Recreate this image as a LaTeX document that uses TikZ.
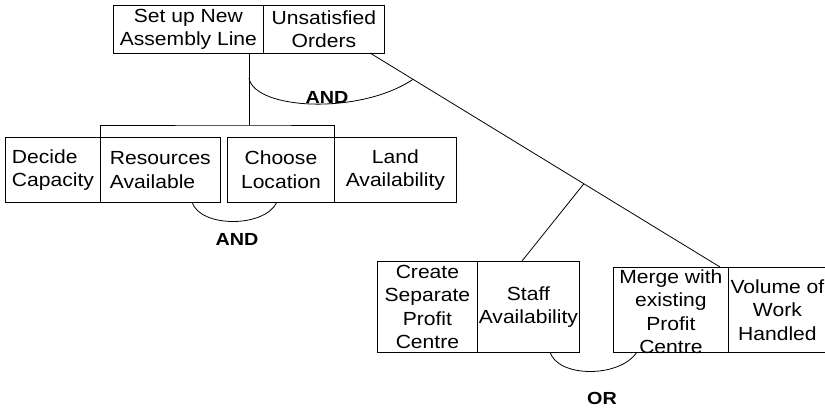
\documentclass[tikz,border=0pt]{standalone}
\usepackage{fontspec}
\setmainfont{Liberation Sans}
\newfontfamily\boxfont[FakeStretch=1.11]{Liberation Sans}
\newfontfamily\gatefont[FakeStretch=1.13]{Liberation Sans}
\usetikzlibrary{calc}
\tikzset{
  cell/.style={draw, line width=0.8pt, inner sep=0pt, anchor=north west,
    align=center, font=\boxfont\fontsize{19}{23.5}\selectfont},
  txt/.style={inner sep=0pt, align=center, font=\boxfont\fontsize{19}{23.5}\selectfont},
  link/.style={line width=0.8pt},
  gate/.style={inner sep=0pt, font=\gatefont\fontsize{17.5}{20}\selectfont\bfseries}
}
\begin{document}
\begin{tikzpicture}[x=1pt, y=-1pt]
\useasboundingbox (0,0) rectangle (825,408);

% goal
\node[cell, minimum width=150pt, minimum height=48pt] (stl) at (113,5) {Set up New\\Assembly Line};
\node[cell, minimum width=121pt, minimum height=48pt] (uo) at (263,5) {Unsatisfied\\Orders};

% first AND branch
\node[cell, align=left, minimum width=95pt, minimum height=65pt] (dc) at (5,137) {Decide\\Capacity};
\node[cell, align=left, minimum width=120pt, minimum height=65pt] (ra) at (100,137) {Resources\\Available};
\node[cell, minimum width=107pt, minimum height=65pt] (cl) at (227,137) {Choose\\Location};
\node[cell, minimum width=122pt, minimum height=65pt] (la) at (334,137) {Land\\Availability};

% OR branch
\node[cell, minimum width=100pt, minimum height=91pt] (cs) at (377,261) {Create\\Separate\\Profit\\Centre};
\node[cell, minimum width=102pt, minimum height=91pt] (sa) at (477,261) {Staff\\Availability};
\node[cell, minimum width=115pt, minimum height=85pt] (mp) at (613,267) {};
\node[txt] (mpt) at ($(mp.center)+(0,2)$) {Merge with\\existing\\Profit\\Centre};
\node[cell, minimum width=98pt, minimum height=85pt] (vw) at (728,267) {Volume of\\Work\\Handled};

% junction points
\coordinate (t1) at (249,53);
\coordinate (j1) at (249,125);
\coordinate (t2) at (370,53);
\coordinate (b2) at (720,267);
\coordinate (j2) at ($(t2)!0.611!(b2)$);
\coordinate (e2) at (522,261);

% connectors
\draw[link] (t1) -- (j1);
\draw[link] (ra.north west) |- (j1) -| (la.north west);
\draw[link] (t2) -- (b2);
\draw[link] (j2) -- (e2);

% gate arcs
\coordinate (a1s) at ($(t1)!0.35!(j1)$);
\coordinate (a1e) at ($(t2)!0.123!(b2)$);
\draw[link] (a1s) .. controls (255,110) and (360,115) .. (a1e);
\coordinate (a2s) at (192,202);
\coordinate (a2e) at (277,202);
\draw[link] (a2s) .. controls (200,228) and (265,228) .. (a2e);
\coordinate (a3s) at (550,352);
\coordinate (a3e) at (637,352);
\draw[link] (a3s) .. controls (558,378) and (620,378) .. (a3e);

% gate labels
\node[gate] (g1) at (327,97) {AND};
\node[gate] (g2) at (237,239) {AND};
\node[gate] (g3) at (602,398) {OR};
\end{tikzpicture}
\end{document}
